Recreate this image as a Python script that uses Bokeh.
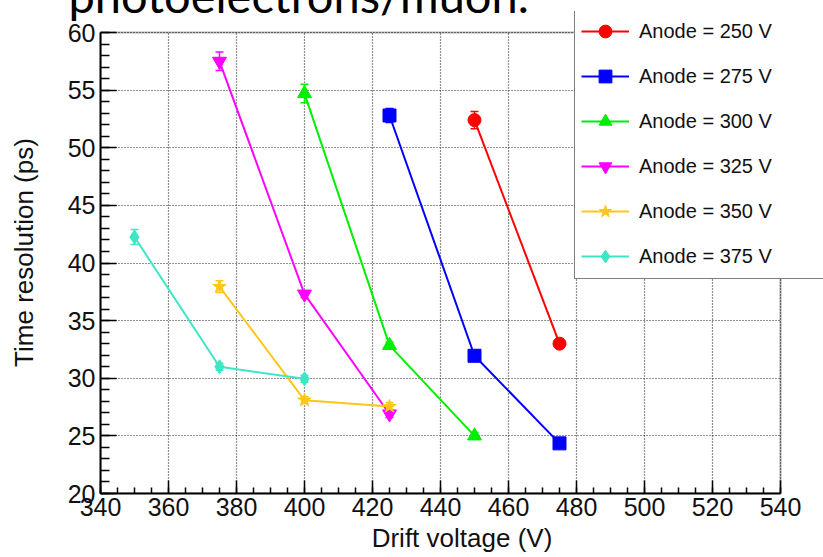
from bokeh.plotting import figure
from bokeh.models import (Range1d, SingleIntervalTicker, Legend, LegendItem, Whisker,
                          TeeHead, ColumnDataSource, BoxAnnotation, Title)
from bokeh.embed import file_html
from bokeh.resources import INLINE

# ---- data ----
labels = ["Anode = 250 V", "Anode = 275 V", "Anode = 300 V",
          "Anode = 325 V", "Anode = 350 V", "Anode = 375 V"]
drift_250 = [450, 475]
res_250 = [52.4, 33.0]
err_250 = [0.75, 0.3]
drift_275 = [425, 450, 475]
res_275 = [52.8, 31.95, 24.35]
err_275 = [0.6, 0.3, 0.3]
drift_300 = [400, 425, 450]
res_300 = [54.7, 32.85, 25.0]
err_300 = [0.8, 0.3, 0.3]
drift_325 = [375, 400, 425]
res_325 = [57.5, 37.3, 26.9]
err_325 = [0.8, 0.3, 0.3]
drift_350 = [375, 400, 425]
res_350 = [37.95, 28.1, 27.55]
err_350 = [0.5, 0.3, 0.35]
drift_375 = [350, 375, 400]
res_375 = [42.25, 31.0, 29.95]
err_375 = [0.65, 0.3, 0.3]

x_lo, x_hi = 340, 540
y_lo, y_hi = 20, 60

series = [
    (drift_250, res_250, err_250, "#ff0000", "circle", 13),
    (drift_275, res_275, err_275, "#0000ff", "square", 13),
    (drift_300, res_300, err_300, "#00ee00", "triangle", 14),
    (drift_325, res_325, err_325, "#ff00ff", "inverted_triangle", 14),
    (drift_350, res_350, err_350, "#ffc61a", "star", 14),
    (drift_375, res_375, err_375, "#3ee6c6", "diamond", 14),
]

FONT = "Liberation Sans"

# frame geometry (pixels): axes box spans 100..780 x 32..493; frame extended
# to the canvas top-right so the legend may overhang the axes box
W, H = 823, 557
L, T, B = 100, 11, 493
AX_R, AX_T = 780, 32
xppu = (AX_R - L) / (x_hi - x_lo)
yppu = (B - AX_T) / (y_hi - y_lo)
x_end = x_lo + (W - L) / xppu
y_end = y_lo + (B - T) / yppu

p = figure(width=W, height=H, output_backend="svg", toolbar_location=None,
           x_range=Range1d(x_lo, x_end), y_range=Range1d(y_lo, y_end),
           min_border_left=L, min_border_right=0, min_border_top=T,
           min_border_bottom=H - B)
p.outline_line_color = None
p.background_fill_color = "white"
p.border_fill_color = "white"

p.xaxis.ticker = SingleIntervalTicker(interval=20, num_minor_ticks=4)
p.yaxis.ticker = SingleIntervalTicker(interval=5, num_minor_ticks=5)
p.xaxis.bounds = (x_lo, x_hi)
p.yaxis.bounds = (y_lo, y_hi)
for ax in (p.xaxis[0], p.yaxis[0]):
    ax.axis_line_color = "black"
    ax.axis_line_width = 2
    ax.major_tick_line_color = "black"
    ax.minor_tick_line_color = "black"
    ax.major_tick_line_width = 1.5
    ax.minor_tick_line_width = 1.5
    ax.major_tick_out = 0
    ax.minor_tick_out = 0
    ax.major_label_text_font = FONT
    ax.major_label_text_font_size = "25px"
    ax.major_label_text_color = "#111111"
    ax.axis_label_text_font = FONT
    ax.axis_label_text_font_size = "26px"
    ax.axis_label_text_font_style = "normal"
    ax.axis_label_text_color = "#111111"
p.xaxis.major_tick_in = 13
p.xaxis.minor_tick_in = 6
p.yaxis.major_tick_in = 16
p.yaxis.minor_tick_in = 9
p.xaxis.major_label_standoff = 4
p.yaxis.major_label_standoff = 5
p.xaxis.axis_label = "Drift voltage (V)"
p.yaxis.axis_label = "Time resolution (ps)"
p.xaxis.axis_label_standoff = 4
p.yaxis.axis_label_standoff = 26

p.grid.grid_line_color = "#222222"
p.grid.grid_line_dash = "1 2"
p.grid.grid_line_width = 1.2
try:
    p.xgrid.cross_bounds = (y_lo, y_hi)
    p.ygrid.cross_bounds = (x_lo, x_hi)
except Exception:
    p.add_layout(BoxAnnotation(bottom=y_hi, fill_color="white", fill_alpha=1,
                               line_alpha=0, level="glyph"))
    p.add_layout(BoxAnnotation(left=x_hi, fill_color="white", fill_alpha=1,
                               line_alpha=0, level="glyph"))

# axes box
p.add_layout(BoxAnnotation(left=x_lo, right=x_hi, bottom=y_lo, top=y_hi,
                           fill_alpha=0, line_color="black", line_width=2))

items = []
for (xs, ys, es, color, marker, size), lab in zip(series, labels):
    src = ColumnDataSource(dict(x=xs, y=ys,
                                lo=[y - e for y, e in zip(ys, es)],
                                hi=[y + e for y, e in zip(ys, es)]))
    w = Whisker(source=src, base="x", upper="hi", lower="lo", dimension="height",
                line_color=color, line_width=1.5,
                upper_head=TeeHead(size=8, line_color=color, line_width=1.5),
                lower_head=TeeHead(size=8, line_color=color, line_width=1.5))
    p.add_layout(w)
    r1 = p.line("x", "y", source=src, line_color=color, line_width=2)
    r2 = p.scatter("x", "y", source=src, marker=marker, size=size,
                   fill_color=color, line_color=color)
    items.append(LegendItem(label=lab, renderers=[r1, r2]))

legend = Legend(items=items, location=(574 - L, B - 279), margin=0, padding=6,
                spacing=13, glyph_width=48, glyph_height=32, label_height=20,
                label_width=260, label_standoff=10,
                label_text_font=FONT, label_text_font_size="20px",
                label_text_color="#111111",
                border_line_color="black", border_line_width=1.5,
                background_fill_color="white", background_fill_alpha=1.0)
p.add_layout(legend)

# slide caption cut off at the top of the picture
cap = Title(text="photoelectrons/muon.", align="left", vertical_align="top",
            offset=68 - L, standoff=-90, text_font="Lato",
            text_font_size="47px", text_font_style="normal", text_color="black")
p.add_layout(cap, "above")

open("out.html", "w").write(file_html(p, INLINE))
